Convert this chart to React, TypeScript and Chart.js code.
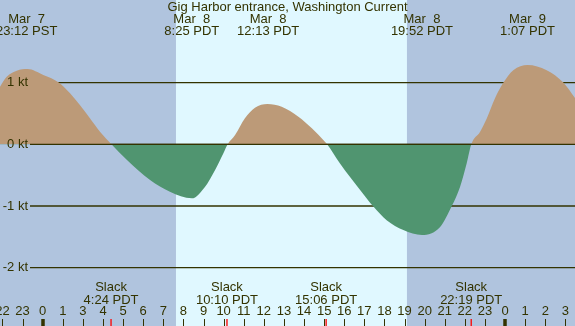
import React, { useEffect, useRef } from 'react';
import { Chart, registerables } from 'chart.js';

Chart.register(...registerables);

// Hours are real elapsed hours since Mar 8 00:00 PST
const title = 'Gig Harbor entrance, Washington Current';

const curveHours = [
  -2.124, -1.79, -1.29, -0.75, 0.03, 0.78, 1.36, 1.85, 2.35, 2.85, 3.42,
  4.18, 5.34, 6.33, 7.42, 8.07, 8.57, 8.99, 9.2,
  9.57, 10.06, 10.56, 11.18, 11.89, 12.72, 13.39, 14.04, 14.15,
  14.79, 15.79, 16.45, 17.11, 17.94, 18.87, 19.77, 20.35, 20.76, 21.09, 21.32,
  21.76, 22.09, 22.5, 22.92, 23.41, 24.12, 25.07, 25.9, 26.48,
];
const curveKnots = [
  0.934, 1.096, 1.193, 1.22, 1.123, 1.005, 0.827, 0.637, 0.421, 0.204, 0,
  -0.25, -0.58, -0.77, -0.875, -0.69, -0.42, -0.146, 0,
  0.151, 0.421, 0.593, 0.653, 0.609, 0.447, 0.259, 0.042, 0,
  -0.31, -0.74, -1.01, -1.23, -1.39, -1.47, -1.34, -1.0, -0.69, -0.31, 0,
  0.204, 0.42, 0.745, 1.0, 1.2, 1.285, 1.2, 1.0, 0.75,
];

const extremeHours = [-0.8, 7.417, 11.217, 18.867, 24.117];
const extremeDates = ['Mar  7', 'Mar  8', 'Mar  8', 'Mar  8', 'Mar  9'];
const extremeTimes = ['23:12 PST', '8:25 PDT', '12:13 PDT', '19:52 PDT', '1:07 PDT'];

const slackHours = [3.4, 9.167, 14.1, 21.317];
const slackTimes = ['4:24 PDT', '10:10 PDT', '15:06 PDT', '22:19 PDT'];

const firstTickHour = -2;
const hourLabels = [
  '22', '23', '0', '1', '3', '4', '5', '6', '7', '8', '9', '10', '11', '12', '13', '14', '15',
  '16', '17', '18', '19', '20', '21', '22', '23', '0', '1', '2', '3',
];
const midnightHours = [0, 23];

const yTickValues = [1, 0, -1, -2];
const yTickLabels = ['1 kt', '0 kt', '-1 kt', '-2 kt'];

const dayStartHour = 6.63;
const dayEndHour = 18.12;

const X_MIN = -2.124;
const X_MAX = 26.48;
const Y_MIN = -2.945;
const Y_MAX = 2.339;

const NIGHT = '#b0c4de';
const DAY = '#e0f8ff';
const FLOOD = '#bc9a78';
const EBB = '#509570';
const INK = '#333300';
const FONT = '13px "Liberation Sans", Arial, sans-serif';

const decorPlugin = {
  id: 'decor',
  beforeDraw(chart: any) {
    const { ctx, width, height } = chart;
    const x = chart.scales.x;
    ctx.save();
    ctx.fillStyle = NIGHT;
    ctx.fillRect(0, 0, width, height);
    const x0 = x.getPixelForValue(dayStartHour);
    const x1 = x.getPixelForValue(dayEndHour);
    ctx.fillStyle = DAY;
    ctx.fillRect(x0, 0, x1 - x0, height);
    ctx.restore();
  },
  beforeDatasetsDraw(chart: any) {
    const { ctx, width } = chart;
    const y = chart.scales.y;
    ctx.save();
    ctx.strokeStyle = INK;
    ctx.lineWidth = 1.3;
    yTickValues.forEach((v) => {
      const py = y.getPixelForValue(v);
      ctx.beginPath();
      ctx.moveTo(30, py);
      ctx.lineTo(width, py);
      ctx.stroke();
    });
    ctx.restore();
  },
  afterDatasetsDraw(chart: any) {
    const { ctx, width } = chart;
    const x = chart.scales.x;
    const y = chart.scales.y;
    ctx.save();
    ctx.strokeStyle = INK;
    ctx.lineWidth = 1.3;
    const zy = y.getPixelForValue(0);
    ctx.beginPath();
    ctx.moveTo(30, zy);
    ctx.lineTo(width, zy);
    ctx.stroke();

    ctx.font = FONT;
    ctx.fillStyle = INK;
    ctx.textBaseline = 'middle';

    ctx.textAlign = 'right';
    yTickValues.forEach((v, i) => {
      ctx.fillText(yTickLabels[i], 28, y.getPixelForValue(v));
    });

    ctx.textAlign = 'center';
    ctx.fillText(title, width / 2, 7);

    extremeHours.forEach((h, i) => {
      const px = x.getPixelForValue(h);
      ctx.fillText(extremeDates[i], px, 19.5);
      ctx.fillText(extremeTimes[i], px, 31);
    });

    slackHours.forEach((h, i) => {
      const px = x.getPixelForValue(h);
      ctx.fillText('Slack', px, 287);
      ctx.fillText(slackTimes[i], px, 300);
    });

    hourLabels.forEach((lab, i) => {
      const h = firstTickHour + i;
      const px = x.getPixelForValue(h);
      ctx.fillText(lab, px, 311.5);
      const thick = midnightHours.includes(h);
      ctx.strokeStyle = INK;
      ctx.lineWidth = thick ? 3.5 : 1;
      ctx.beginPath();
      ctx.moveTo(Math.round(px) + (thick ? 0 : 0.5), 319);
      ctx.lineTo(Math.round(px) + (thick ? 0 : 0.5), 326);
      ctx.stroke();
    });

    ctx.strokeStyle = '#ff0000';
    ctx.lineWidth = 1.3;
    slackHours.forEach((h) => {
      const px = x.getPixelForValue(h);
      ctx.beginPath();
      ctx.moveTo(px, 319);
      ctx.lineTo(px, 326);
      ctx.stroke();
    });
    ctx.restore();
  },
};

export default function App() {
  const ref = useRef<HTMLCanvasElement | null>(null);
  useEffect(() => {
    if (!ref.current) return;
    const chart = new Chart(ref.current, {
      type: 'line',
      data: {
        datasets: [
          {
            data: curveHours.map((h, i) => ({ x: h, y: curveKnots[i] })),
            fill: { target: { value: 0 }, above: FLOOD, below: EBB },
            borderWidth: 0,
            borderColor: 'rgba(0,0,0,0)',
            pointRadius: 0,
            cubicInterpolationMode: 'monotone',
          } as any,
        ],
      },
      options: {
        responsive: false,
        animation: false,
        events: [],
        layout: { padding: 0 },
        plugins: { legend: { display: false }, tooltip: { enabled: false } },
        scales: {
          x: { type: 'linear', display: false, min: X_MIN, max: X_MAX },
          y: { type: 'linear', display: false, min: Y_MIN, max: Y_MAX },
        },
      },
      plugins: [decorPlugin],
    });
    return () => chart.destroy();
  }, []);
  return (
    <div style={{ position: 'absolute', left: 0, top: 0, width: 575, height: 326 }}>
      <canvas ref={ref} width={575} height={326} style={{ display: 'block' }} />
    </div>
  );
}
